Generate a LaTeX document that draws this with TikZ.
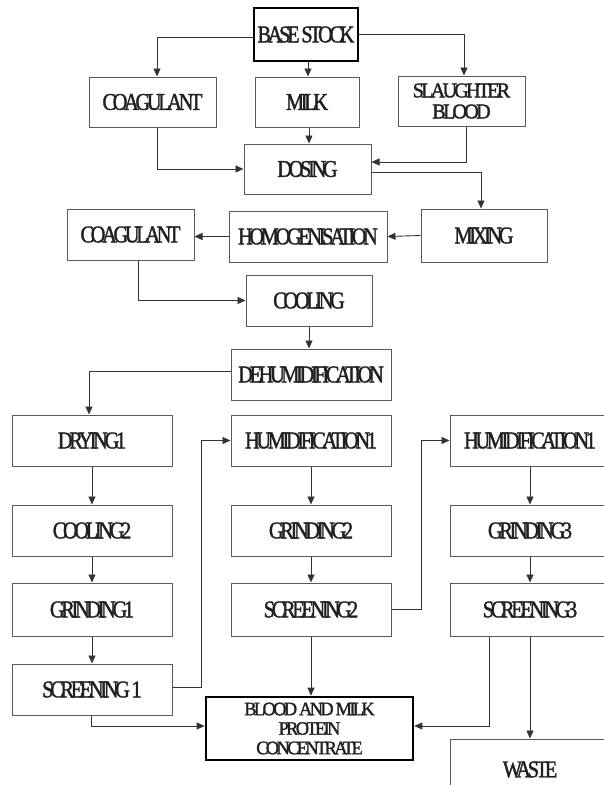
\documentclass[tikz,border=0pt]{standalone}
\usepackage{fontspec}
\usetikzlibrary{arrows.meta}
\newfontfamily\boxfont[FakeStretch=0.85,LetterSpace=-14,FakeBold=1.5]{Liberation Serif}
\newfontfamily\widebox[FakeStretch=0.97,LetterSpace=-14,FakeBold=1.5]{Liberation Serif}
\definecolor{edge}{HTML}{5A5A5A}
\definecolor{wire}{HTML}{333333}
\definecolor{ink}{HTML}{231F20}
\tikzset{
  procbox/.style={draw=edge, line width=1pt, rectangle, inner sep=0pt, align=center,
    text=ink, font=\boxfont\fontsize{24}{18}\selectfont},
  heavybox/.style={procbox, draw=black, line width=2.6pt},
  arr/.style={draw=wire, line width=0.9pt, -{Triangle[length=8pt,width=7pt]}},
}
\begin{document}
\begin{tikzpicture}[x=1pt,y=-1pt]
\useasboundingbox (0,0) rectangle (604,785);
\clip (0,0) rectangle (604,785);
\fill[white] (0,0) rectangle (604,785);
% row 1
\node[heavybox, minimum width=104, minimum height=53] (base) at (306,34.5) {BASE STOCK};
\node[procbox, minimum width=127, minimum height=50] (coag1) at (152.5,102) {COAGULANT};
\node[procbox, minimum width=104, minimum height=50] (milk) at (307,102) {MILK};
\node[procbox, minimum width=127, minimum height=50, font=\widebox\fontsize{21}{21}\selectfont] (slaughter) at (461.5,101) {SLAUGHTER\\BLOOD};
\node[procbox, minimum width=127, minimum height=50] (dosing) at (307.5,169) {DOSING};
\node[procbox, minimum width=126, minimum height=53] (mixing) at (484,235.5) {MIXING};
\node[procbox, minimum width=158, minimum height=51] (homog) at (308,236.5) {HOMOGENISATION};
\node[procbox, minimum width=127, minimum height=51] (coag2) at (130.5,234.5) {COAGULANT};
\node[procbox, minimum width=126, minimum height=51] (cooling) at (309,300.5) {COOLING};
\node[procbox, minimum width=160, minimum height=51] (dehum) at (311,374.5) {DEHUMIDIFICATION};
% columns
\node[procbox, minimum width=160, minimum height=51] (drying) at (92,440.5) {DRYING1};
\node[procbox, minimum width=160, minimum height=51] (humA) at (311,440.5) {HUMIDIFICATION1};
\node[procbox, minimum width=160, minimum height=51] (humB) at (530,440.5) {HUMIDIFICATION1};
\node[procbox, minimum width=160, minimum height=51] (coolB) at (92,530.5) {COOLING2};
\node[procbox, minimum width=160, minimum height=51] (grindB) at (311,530.5) {GRINDING2};
\node[procbox, minimum width=160, minimum height=51] (grindC) at (530,530.5) {GRINDING3};
\node[procbox, minimum width=160, minimum height=53] (grindA) at (92,609.5) {GRINDING1};
\node[procbox, minimum width=160, minimum height=53] (scrB) at (311,609.5) {SCREENING2};
\node[procbox, minimum width=160, minimum height=53] (scrC) at (530,609.5) {SCREENING3};
\node[procbox, minimum width=160, minimum height=51] (scrA) at (92,689.5) {SCREENING 1};
\node[heavybox, minimum width=207, minimum height=63, font=\widebox\fontsize{19}{19.5}\selectfont] (conc) at (309.5,728.5) {BLOOD AND MILK\\PROTEIN\\CONCENTRATE};
\node[procbox, minimum width=160, minimum height=61] (waste) at (530,769.5) {WASTE};
\coordinate (j1) at (201,0);
\coordinate (j2) at (421,0);
% connectors
\draw[arr] ([yshift=-2.5]base.west) -| ([xshift=4.5]coag1.north);
\draw[arr] (base.east) -| ([xshift=2.5]slaughter.north);
\draw[arr] ([xshift=2]base.south) -- ([xshift=2]base.south |- milk.north);
\draw[arr] ([xshift=2]milk.south) -- ([xshift=2]milk.south |- dosing.north);
\draw[arr] ([xshift=4.5]coag1.south) |- (dosing.west);
\draw[arr] ([xshift=4.5]slaughter.south) |- ([yshift=7]dosing.east);
\draw[arr] ([yshift=-3]dosing.east) -| ([xshift=-3]mixing.north);
\draw[arr] (mixing.west) -- (homog.east);
\draw[arr] (homog.west) -- (homog.west -| coag2.east);
\draw[arr] ([xshift=7.5]coag2.south) |- (cooling.west);
\draw[arr] (cooling.south) -- (cooling.south |- dehum.north);
\draw[arr] ([yshift=3.5]dehum.west) -| ([xshift=-3]drying.north);
\draw[arr] (drying.south) -- (coolB.north);
\draw[arr] (coolB.south) -- (grindA.north);
\draw[arr] (grindA.south) -- (scrA.north);
\draw[arr] ([yshift=2.5]scrA.east) -| (j1 |- humA.west) -- (humA.west);
\draw[arr] (humA.south) -- (grindB.north);
\draw[arr] (grindB.south) -- (scrB.north);
\draw[arr] (scrB.east) -| (j2 |- humB.west) -- (humB.west);
\draw[arr] (humB.south) -- (grindC.north);
\draw[arr] (grindC.south) -- (scrC.north);
\draw[arr] (scrB.south) -- (scrB.south |- conc.north);
\draw[arr] ([xshift=-1]scrA.south) |- ([yshift=2.5]conc.west);
\draw[arr] ([xshift=-41]scrC.south) |- ([yshift=2.5]conc.east);
\draw[arr] (scrC.south) -- (waste.north);
\end{tikzpicture}
\end{document}
